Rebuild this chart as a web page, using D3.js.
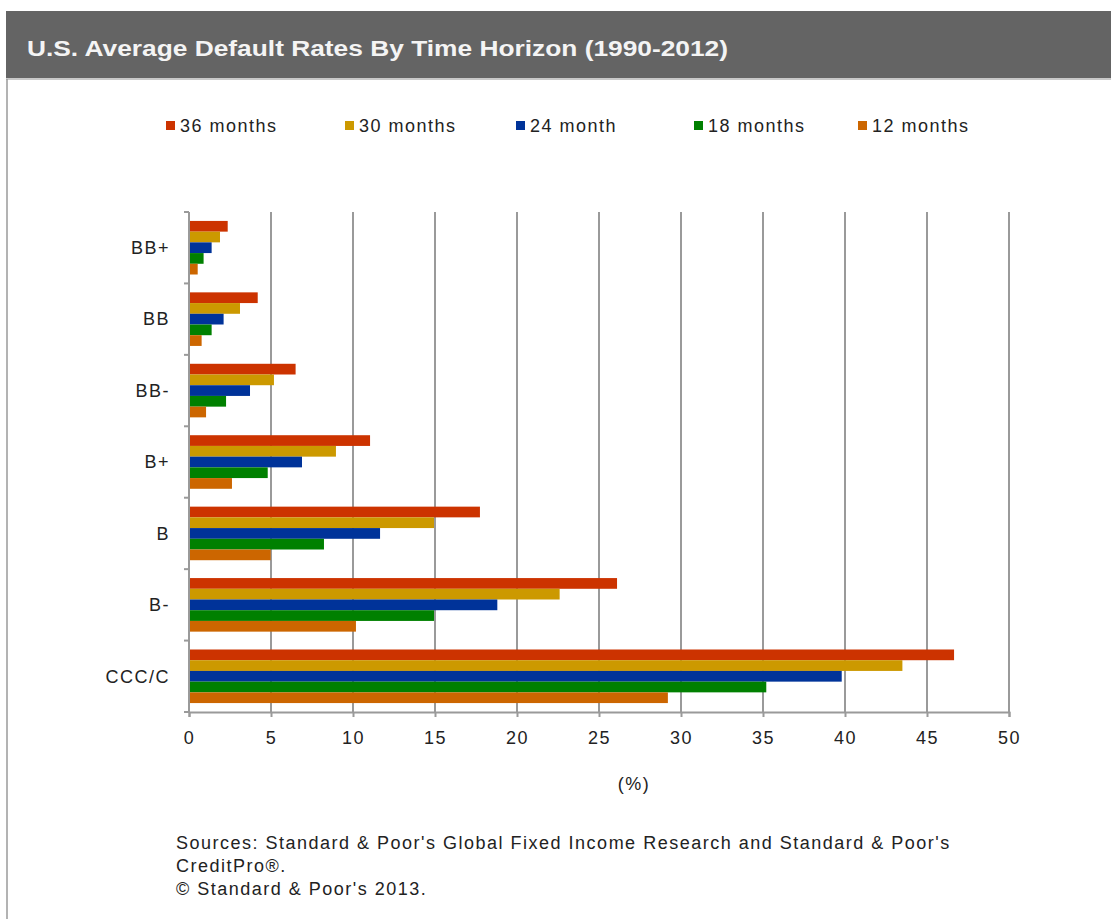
<!DOCTYPE html>
<html>
<head>
<meta charset="utf-8">
<script src="https://cdn.jsdelivr.net/npm/d3@7"></script>
<style>
  body { margin: 0; background: #fff; }
  svg text { font-family: "Liberation Sans", Arial, sans-serif; }
  .lbl { font-size: 18px; letter-spacing: 1.5px; fill: #222; }
</style>
</head>
<body>
<svg id="chart" width="1111" height="919"></svg>
<script>
const ratings = ['BB+', 'BB', 'BB-', 'B+', 'B', 'B-', 'CCC/C']
const horizons = ['36 months', '30 months', '24 month', '18 months', '12 months']
const colors = ['#cc3300', '#cc9900', '#003399', '#008000', '#cc6600']

// one array per horizon, values in % by rating
const m36 = [2.36, 4.19, 6.5, 11.04, 17.74, 26.1, 46.65]
const m30 = [1.89, 3.11, 5.18, 8.96, 14.94, 22.6, 43.5]
const m24 = [1.38, 2.11, 3.72, 6.89, 11.65, 18.8, 39.8]
const m18 = [0.89, 1.38, 2.26, 4.8, 8.23, 14.94, 35.2]
const m12 = [0.53, 0.77, 1.04, 2.62, 4.98, 10.18, 29.2]
const xTicks = [0, 5, 10, 15, 20, 25, 30, 35, 40, 45, 50]

const series = [m36, m30, m24, m18, m12]
const rows = []
ratings.forEach((r, i) => {
    horizons.forEach((h, j) => {
        rows.push({rating: r, horizon: h, value: series[j][i], color: colors[j]})
    })
})

const svg = d3.select('#chart')

// header bar
svg.append('rect')
    .attr('x', 6).attr('y', 11)
    .attr('width', 1105).attr('height', 67)
    .attr('fill', '#646464')
svg.append('line')
    .attr('x1', 6).attr('x2', 1111).attr('y1', 79).attr('y2', 79)
    .attr('stroke', '#c8c8c8').attr('stroke-width', 2)
svg.append('line')
    .attr('x1', 7).attr('x2', 7).attr('y1', 79).attr('y2', 919)
    .attr('stroke', '#9a9a9a').attr('stroke-width', 1.5)
svg.append('text')
    .text('U.S. Average Default Rates By Time Horizon (1990-2012)')
    .attr('x', 27).attr('y', 56)
    .attr('font-size', '22px')
    .attr('font-weight', 'bold')
    .attr('fill', '#f4f4f4')
    .attr('textLength', 701)
    .attr('lengthAdjust', 'spacingAndGlyphs')

// legend
const legendX = [166, 345, 516, 694, 858]
const legend = svg.append('g')
    .selectAll('g')
    .data(horizons)
    .join('g')
    .attr('transform', (d, i) => `translate(${legendX[i]}, 121)`)
legend.append('rect')
    .attr('width', 9).attr('height', 9)
    .attr('fill', (d, i) => colors[i])
legend.append('text')
    .attr('class', 'lbl')
    .text(d => d)
    .attr('x', 14).attr('y', 11)

// plot
const x = d3.scaleLinear([0, 50], [189, 1009])
const y = d3.scaleBand(ratings, [212, 712]).paddingInner(0.25).paddingOuter(0.125)
const ySub = d3.scaleBand(horizons, [0, y.bandwidth()])

// gridlines
svg.append('g')
    .selectAll('line')
    .data(xTicks.slice(1))
    .join('line')
    .attr('x1', d => x(d)).attr('x2', d => x(d))
    .attr('y1', 212).attr('y2', 712)
    .attr('stroke', '#9a9a9a').attr('stroke-width', 2)

// bars
svg.append('g')
    .selectAll('rect')
    .data(rows)
    .join('rect')
    .attr('x', x(0))
    .attr('y', d => y(d.rating) + ySub(d.horizon))
    .attr('width', d => x(d.value) - x(0))
    .attr('height', ySub.bandwidth())
    .attr('fill', d => d.color)

// x axis
const xAxis = d3.axisBottom(x).tickValues(xTicks).tickSize(5).tickPadding(14)
const gx = svg.append('g')
    .attr('transform', 'translate(0, 712)')
    .call(xAxis)
gx.select('.domain').attr('stroke', '#9a9a9a').attr('stroke-width', 2)
gx.selectAll('.tick line').attr('stroke', '#9a9a9a').attr('stroke-width', 2)
gx.selectAll('.tick text')
    .attr('class', 'lbl')
    .attr('font-family', '"Liberation Sans", Arial, sans-serif')
    .attr('font-size', null)
    .attr('fill', null)

// y axis: ticks at band boundaries
const step = y.step()
const yBounds = d3.range(ratings.length + 1).map(i => 212 + i * step)
svg.append('line')
    .attr('x1', x(0)).attr('x2', x(0))
    .attr('y1', 212).attr('y2', 712)
    .attr('stroke', '#9a9a9a').attr('stroke-width', 2)
svg.append('g')
    .selectAll('line')
    .data(yBounds)
    .join('line')
    .attr('x1', x(0) - 5).attr('x2', x(0))
    .attr('y1', d => d).attr('y2', d => d)
    .attr('stroke', '#9a9a9a').attr('stroke-width', 2)
svg.append('g')
    .selectAll('text')
    .data(ratings)
    .join('text')
    .attr('class', 'lbl')
    .text(d => d)
    .attr('x', 170)
    .attr('y', d => y(d) + y.bandwidth() / 2)
    .attr('dy', '0.35em')
    .attr('text-anchor', 'end')

// axis title
svg.append('text')
    .attr('class', 'lbl')
    .text('(%)')
    .attr('x', 634).attr('y', 790)
    .attr('text-anchor', 'middle')

// source note
const notes = [
    "Sources: Standard & Poor's Global Fixed Income Research and Standard & Poor's",
    'CreditPro®.',
    "© Standard & Poor's 2013."
]
svg.append('g')
    .selectAll('text')
    .data(notes)
    .join('text')
    .attr('class', 'lbl')
    .text(d => d)
    .attr('x', 176)
    .attr('y', (d, i) => 849 + i * 23)
</script>
</body>
</html>
